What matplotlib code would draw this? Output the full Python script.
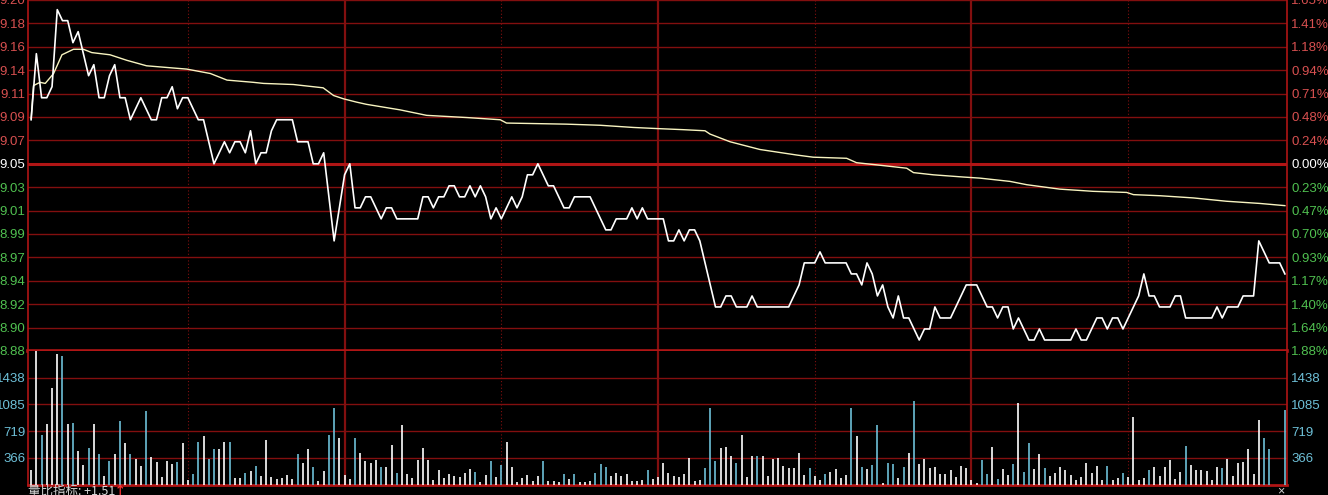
import numpy as np
import matplotlib
matplotlib.use('Agg')
import matplotlib.pyplot as plt

plt.rcParams['font.family'] = ['Liberation Sans', 'DejaVu Sans']

# minute price, 9:30-11:30 (121 pts) and 13:01-15:00 (120 pts)
price_am = [9.09, 9.15, 9.11, 9.11, 9.12, 9.19, 9.18, 9.18, 9.16, 9.17,
            9.15, 9.13, 9.14, 9.11, 9.11, 9.13, 9.14, 9.11, 9.11, 9.09,
            9.10, 9.11, 9.10, 9.09, 9.09, 9.11, 9.11, 9.12, 9.10, 9.11,
            9.11, 9.10, 9.09, 9.09, 9.07, 9.05, 9.06, 9.07, 9.06, 9.07,
            9.07, 9.06, 9.08, 9.05, 9.06, 9.06, 9.08, 9.09, 9.09, 9.09,
            9.09, 9.07, 9.07, 9.07, 9.05, 9.05, 9.06, 9.02, 8.98, 9.01,
            9.04, 9.05, 9.01, 9.01, 9.02, 9.02, 9.01, 9.00, 9.01, 9.01,
            9.00, 9.00, 9.00, 9.00, 9.00, 9.02, 9.02, 9.01, 9.02, 9.02,
            9.03, 9.03, 9.02, 9.02, 9.03, 9.02, 9.03, 9.02, 9.00, 9.01,
            9.00, 9.01, 9.02, 9.01, 9.02, 9.04, 9.04, 9.05, 9.04, 9.03,
            9.03, 9.02, 9.01, 9.01, 9.02, 9.02, 9.02, 9.02, 9.01, 9.00,
            8.99, 8.99, 9.00, 9.00, 9.00, 9.01, 9.00, 9.01, 9.00, 9.00,
            9.00]
price_pm = [9.00, 8.98, 8.98, 8.99, 8.98, 8.99, 8.99, 8.98, 8.96, 8.94,
            8.92, 8.92, 8.93, 8.93, 8.92, 8.92, 8.92, 8.93, 8.92, 8.92,
            8.92, 8.92, 8.92, 8.92, 8.92, 8.93, 8.94, 8.96, 8.96, 8.96,
            8.97, 8.96, 8.96, 8.96, 8.96, 8.96, 8.95, 8.95, 8.94, 8.96,
            8.95, 8.93, 8.94, 8.92, 8.91, 8.93, 8.91, 8.91, 8.90, 8.89,
            8.90, 8.90, 8.92, 8.91, 8.91, 8.91, 8.92, 8.93, 8.94, 8.94,
            8.94, 8.93, 8.92, 8.92, 8.91, 8.92, 8.92, 8.90, 8.91, 8.90,
            8.89, 8.89, 8.90, 8.89, 8.89, 8.89, 8.89, 8.89, 8.89, 8.90,
            8.89, 8.89, 8.90, 8.91, 8.91, 8.90, 8.91, 8.91, 8.90, 8.91,
            8.92, 8.93, 8.95, 8.93, 8.93, 8.92, 8.92, 8.92, 8.93, 8.93,
            8.91, 8.91, 8.91, 8.91, 8.91, 8.91, 8.92, 8.91, 8.92, 8.92,
            8.92, 8.93, 8.93, 8.93, 8.98, 8.97, 8.96, 8.96, 8.96, 8.95]

# average price line, read points (minute, price)
avg_t = [0, 0.45, 1.7, 2.7, 4.3, 5.9, 8.1, 10, 11.6, 15.1, 18.3, 22.1, 27.2,
         29.8, 34.3, 37.5, 42.5, 44.5, 50.2, 55.9, 57.9, 59.8, 62.3, 64.2,
         70.6, 75.7, 83.4, 89.8, 91, 102.5, 108.9, 115.3, 119.8, 124.8, 129,
         129.95, 133.8, 139.5, 146.5, 149.7, 156.1, 158, 161.9, 167.6, 168.9,
         172.7, 178.4, 181.6, 187.4, 190.6, 196.9, 203.3, 209.7, 211, 216.1,
         222.5, 228.8, 235.2, 240]
avg_p = [9.091, 9.121, 9.124, 9.123, 9.132, 9.149, 9.154, 9.154, 9.151,
         9.149, 9.144, 9.139, 9.137, 9.136, 9.132, 9.126, 9.124, 9.123, 9.122,
         9.119, 9.112, 9.109, 9.106, 9.104, 9.099, 9.094, 9.092, 9.090, 9.087,
         9.086, 9.085, 9.083, 9.082, 9.081, 9.080, 9.077, 9.070, 9.063, 9.058,
         9.056, 9.055, 9.051, 9.049, 9.046, 9.042, 9.040, 9.038, 9.037, 9.034,
         9.031, 9.027, 9.025, 9.024, 9.022, 9.021, 9.019, 9.016, 9.014, 9.012]

# volume per minute, 1 = white bar, 0 = cyan bar
vol_am = [195, 1800, 660, 805, 1300, 1750, 1720, 805, 830, 450,
          260, 490, 805, 410, 115, 315, 410, 855, 550, 410,
          345, 250, 980, 370, 300, 100, 315, 275, 300, 550,
          60, 140, 575, 645, 345, 470, 480, 575, 575, 85,
          85, 155, 180, 250, 115, 600, 100, 70, 85, 125,
          70, 410, 290, 470, 235, 45, 180, 670, 1030, 620,
          125, 70, 620, 425, 315, 290, 330, 235, 235, 535,
          155, 795, 140, 85, 330, 490, 330, 60, 195, 85,
          140, 115, 100, 155, 210, 170, 30, 125, 315, 100,
          260, 575, 235, 30, 85, 125, 45, 115, 315, 45,
          45, 30, 140, 70, 140, 30, 30, 45, 155, 275,
          235, 115, 155, 115, 140, 45, 45, 60, 195, 70,
          100]
dir_am = [1, 1, 0, 1, 1, 1, 0, 1, 0, 1,
          1, 0, 1, 0, 1, 0, 1, 0, 1, 0,
          1, 1, 0, 1, 1, 1, 1, 1, 0, 1,
          1, 0, 0, 1, 0, 0, 1, 1, 0, 1,
          1, 0, 1, 0, 1, 1, 1, 1, 1, 1,
          1, 0, 1, 1, 0, 1, 1, 0, 0, 1,
          1, 1, 0, 1, 1, 1, 1, 0, 1, 1,
          0, 1, 1, 1, 1, 1, 1, 1, 1, 1,
          1, 1, 1, 1, 1, 0, 1, 1, 0, 1,
          0, 1, 1, 1, 1, 1, 1, 1, 0, 1,
          1, 1, 0, 1, 0, 1, 1, 1, 0, 0,
          0, 1, 1, 1, 1, 1, 1, 1, 0, 1,
          1]
vol_pm = [290, 155, 115, 100, 140, 360, 45, 60, 220, 1030,
          315, 490, 505, 385, 290, 670, 100, 385, 385, 385,
          115, 345, 360, 250, 220, 220, 425, 125, 220, 115,
          60, 140, 170, 210, 85, 125, 1030, 655, 235, 210,
          260, 795, 20, 290, 275, 85, 235, 425, 1120, 275,
          345, 220, 235, 140, 140, 195, 100, 250, 220, 60,
          20, 330, 140, 505, 70, 210, 125, 275, 1090, 170,
          550, 210, 410, 220, 115, 155, 235, 195, 125, 60,
          100, 290, 155, 250, 60, 250, 60, 85, 155, 100,
          900, 60, 85, 195, 235, 115, 235, 330, 70, 170,
          520, 260, 195, 195, 180, 60, 235, 220, 345, 115,
          290, 300, 480, 140, 860, 630, 470, 0, 0, 1000]
dir_pm = [1, 1, 1, 1, 1, 1, 1, 1, 0, 0,
          0, 1, 1, 1, 0, 1, 1, 1, 0, 1,
          1, 1, 1, 1, 1, 1, 1, 1, 0, 1,
          1, 0, 1, 1, 1, 1, 0, 1, 0, 1,
          0, 0, 1, 0, 0, 1, 0, 1, 0, 1,
          1, 1, 1, 1, 1, 1, 1, 1, 1, 1,
          1, 0, 0, 1, 0, 1, 1, 0, 1, 0,
          0, 1, 1, 0, 1, 1, 1, 1, 1, 1,
          1, 1, 1, 1, 1, 0, 1, 1, 0, 1,
          1, 1, 1, 0, 1, 1, 1, 1, 1, 1,
          0, 1, 1, 1, 1, 1, 1, 0, 1, 1,
          1, 1, 1, 1, 1, 0, 0, 1, 1, 0]

pre_close = 9.05
left_labels = ["9.20", "9.18", "9.16", "9.14", "9.11", "9.09", "9.07", "9.05",
               "9.03", "9.01", "8.99", "8.97", "8.94", "8.92", "8.90", "8.88"]
right_labels = ["1.65%", "1.41%", "1.18%", "0.94%", "0.71%", "0.48%", "0.24%",
                "0.00%", "0.23%", "0.47%", "0.70%", "0.93%", "1.17%", "1.40%",
                "1.64%", "1.88%"]
vol_labels = ["366", "719", "1085", "1438"]
ratio_text = "量比指标: +1.51"

price = price_am + price_pm
vol = vol_am + vol_pm
vdir = dir_am + dir_pm
t = np.arange(len(price))

RED = '#d85050'
GREEN = '#50c050'
CYAN = '#6ec0d8'
GRID = '#820f0f'
THICK = '#b01515'

W, H = 1328, 495
def box(x0, y0, x1, y1):
    return [x0 / W, 1 - y1 / H, (x1 - x0) / W, (y1 - y0) / H]

fig = plt.figure(figsize=(W / 100, H / 100), dpi=100, facecolor='black')
ax = fig.add_axes(box(28, 0, 1287, 351))
axv = fig.add_axes(box(28, 351, 1287, 484.5))

step = 0.02125
ticks = [pre_close + k * step for k in range(7, -9, -1)]
vstep = 358.0

for a in (ax, axv):
    a.set_facecolor('black')
    a.set_xlim(-0.6, 240.4)
    a.set_xticks([])
    for s in ('top', 'bottom'):
        a.spines[s].set_visible(False)
    for s in ('left', 'right'):
        a.spines[s].set_color(THICK)
        a.spines[s].set_linewidth(1.2)
    for m in (60, 120, 180):
        a.axvline(m, color=GRID, lw=1.6, zorder=1)
    for m in (30, 90, 150, 210):
        a.axvline(m, color=GRID, lw=0.8, ls=(0, (1, 2)), zorder=1)

# price panel
ax.set_ylim(8.88, 9.196)
for i, p in enumerate(ticks):
    if left_labels[i] in ("9.05",):
        ax.axhline(p, color=THICK, lw=2.2, zorder=1)
    elif left_labels[i] == "8.88":
        ax.axhline(p, color=THICK, lw=2.6, zorder=3, clip_on=False)
    else:
        ax.axhline(p, color=GRID, lw=1, zorder=1)
ax.set_yticks(ticks, labels=left_labels)
ax.tick_params(axis='y', length=0, pad=2, labelsize=9.5)
axr = ax.twinx()
axr.set_ylim(ax.get_ylim())
axr.set_yticks(ticks, labels=right_labels)
axr.tick_params(axis='y', length=0, pad=3, labelsize=9.5)
for s in ('top', 'bottom', 'left', 'right'):
    axr.spines[s].set_visible(False)

for labs in (ax.get_yticklabels(), axr.get_yticklabels()):
    for i, lab in enumerate(labs):
        if i < 7:
            lab.set_color(RED)
        elif i == 7:
            lab.set_color('white')
        else:
            lab.set_color(GREEN)

ax.plot(avg_t, avg_p, color='#f8f4c0', lw=1.0, zorder=4)
ax.plot(t, price, color='white', lw=1.2, zorder=5)

# volume panel
axv.set_ylim(0, 5 * vstep)
vt = [vstep * k for k in range(1, 5)]
for v in vt:
    axv.axhline(v, color=GRID, lw=1, zorder=1)
axv.axhline(0, color=THICK, lw=2, zorder=3, clip_on=False)
cols = ['white' if d else CYAN for d in vdir]
axv.vlines(t, 0, vol, colors=cols, lw=1.2, zorder=4)
axv.set_yticks(vt, labels=vol_labels)
axv.tick_params(axis='y', length=0, pad=2, labelsize=9.5, labelcolor=CYAN)
axvr = axv.twinx()
axvr.set_ylim(axv.get_ylim())
axvr.set_yticks(vt, labels=vol_labels)
axvr.tick_params(axis='y', length=0, pad=3, labelsize=9.5, labelcolor=CYAN)
for s in ('top', 'bottom', 'left', 'right'):
    axvr.spines[s].set_visible(False)

fig.text(28 / W, 1 - 485 / H, ratio_text, color='#d8d8d8', fontsize=9,
         va='top', ha='left', family=['Noto Sans CJK SC', 'DejaVu Sans'])
fig.text(114 / W, 1 - 485 / H, "↑", color='#ff3030', fontsize=9,
         va='top', ha='left', fontweight='bold',
         family=['Noto Sans CJK SC', 'DejaVu Sans'])
fig.text(1281 / W, 1 - 491 / H, "×", color='#d0d0d0', fontsize=9,
         va='center', ha='center')

fig.savefig('out.png', dpi=100, facecolor='black')
